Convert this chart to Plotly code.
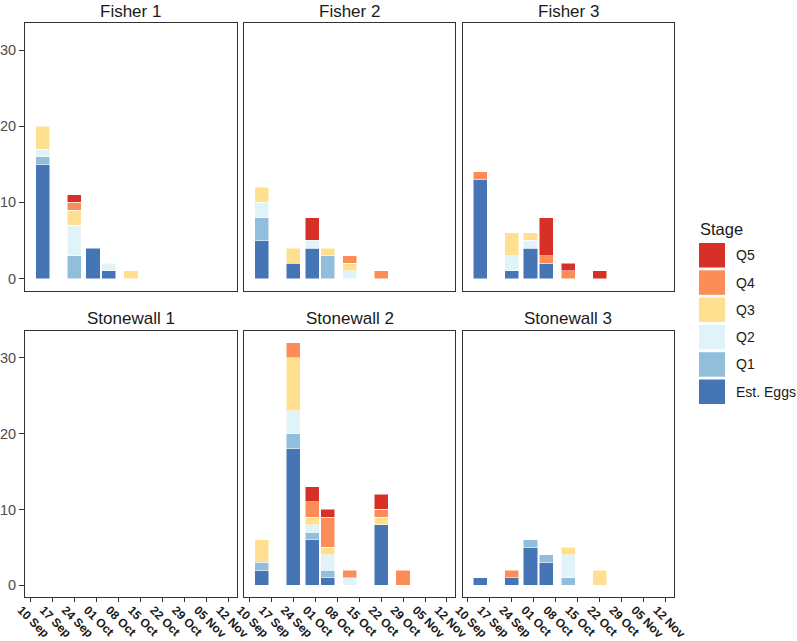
import plotly.graph_objects as go

# ---------------- data ----------------
dates = ["2018-09-14", "2018-09-24", "2018-09-30", "2018-10-05",
         "2018-10-12", "2018-10-22", "2018-10-29"]
stages = ["Est. Eggs", "Q1", "Q2", "Q3", "Q4", "Q5"]
stage_colors = ["#4575B4", "#91BFDB", "#E0F3F8", "#FEE090", "#FC8D59", "#D73027"]
sites = ["Fisher 1", "Fisher 2", "Fisher 3", "Stonewall 1", "Stonewall 2", "Stonewall 3"]
tick_start = "2018-09-10"
y_ticks = [0, 10, 20, 30]

fisher1_eggs = [15, 0, 4, 1, 0, 0, 0]
fisher1_q1 = [1, 3, 0, 0, 0, 0, 0]
fisher1_q2 = [1, 4, 0, 1, 0, 0, 0]
fisher1_q3 = [3, 2, 0, 0, 1, 0, 0]
fisher1_q4 = [0, 1, 0, 0, 0, 0, 0]
fisher1_q5 = [0, 1, 0, 0, 0, 0, 0]

fisher2_eggs = [5, 2, 4, 0, 0, 0, 0]
fisher2_q1 = [3, 0, 0, 3, 0, 0, 0]
fisher2_q2 = [2, 0, 1, 0, 1, 0, 0]
fisher2_q3 = [2, 2, 0, 1, 1, 0, 0]
fisher2_q4 = [0, 0, 0, 0, 1, 1, 0]
fisher2_q5 = [0, 0, 3, 0, 0, 0, 0]

fisher3_eggs = [13, 1, 4, 2, 0, 0, 0]
fisher3_q1 = [0, 0, 0, 0, 0, 0, 0]
fisher3_q2 = [0, 2, 1, 0, 0, 0, 0]
fisher3_q3 = [0, 3, 1, 0, 0, 0, 0]
fisher3_q4 = [1, 0, 0, 1, 1, 0, 0]
fisher3_q5 = [0, 0, 0, 5, 1, 1, 0]

stonewall1_eggs = [0, 0, 0, 0, 0, 0, 0]
stonewall1_q1 = [0, 0, 0, 0, 0, 0, 0]
stonewall1_q2 = [0, 0, 0, 0, 0, 0, 0]
stonewall1_q3 = [0, 0, 0, 0, 0, 0, 0]
stonewall1_q4 = [0, 0, 0, 0, 0, 0, 0]
stonewall1_q5 = [0, 0, 0, 0, 0, 0, 0]

stonewall2_eggs = [2, 18, 6, 1, 0, 8, 0]
stonewall2_q1 = [1, 2, 1, 1, 0, 0, 0]
stonewall2_q2 = [0, 3, 1, 2, 1, 0, 0]
stonewall2_q3 = [3, 7, 1, 1, 0, 1, 0]
stonewall2_q4 = [0, 2, 2, 4, 1, 1, 2]
stonewall2_q5 = [0, 0, 2, 1, 0, 2, 0]

stonewall3_eggs = [1, 1, 5, 3, 0, 0, 0]
stonewall3_q1 = [0, 0, 1, 1, 1, 0, 0]
stonewall3_q2 = [0, 0, 0, 0, 3, 0, 0]
stonewall3_q3 = [0, 0, 0, 0, 1, 2, 0]
stonewall3_q4 = [0, 1, 0, 0, 0, 0, 0]
stonewall3_q5 = [0, 0, 0, 0, 0, 0, 0]

site_data = [
    [fisher1_eggs, fisher1_q1, fisher1_q2, fisher1_q3, fisher1_q4, fisher1_q5],
    [fisher2_eggs, fisher2_q1, fisher2_q2, fisher2_q3, fisher2_q4, fisher2_q5],
    [fisher3_eggs, fisher3_q1, fisher3_q2, fisher3_q3, fisher3_q4, fisher3_q5],
    [stonewall1_eggs, stonewall1_q1, stonewall1_q2, stonewall1_q3, stonewall1_q4, stonewall1_q5],
    [stonewall2_eggs, stonewall2_q1, stonewall2_q2, stonewall2_q3, stonewall2_q4, stonewall2_q5],
    [stonewall3_eggs, stonewall3_q1, stonewall3_q2, stonewall3_q3, stonewall3_q4, stonewall3_q5],
]

# ---------------- layout geometry (pixels) ----------------
W, H = 797, 641
cols_px = [(25, 236.5), (244.3, 454.8), (462.7, 673.5)]
rows_px = [(22.7, 290.7), (330.7, 597.3)]
FONT = "Liberation Sans, Arial, sans-serif"
bar_width_ms = 4.5 * 86400000


def px_x(v):
    return v / W


def px_y(v):
    return 1 - v / H


fig = go.Figure()
layout = dict(
    template="none",
    width=W, height=H,
    margin=dict(l=0, r=0, t=0, b=0, autoexpand=False),
    paper_bgcolor="white", plot_bgcolor="white",
    barmode="stack", showlegend=False,
    font=dict(family=FONT),
)
annotations = []
shapes = []

for i, site in enumerate(sites):
    r, c = divmod(i, 3)
    n = i + 1
    xa = "xaxis" if n == 1 else f"xaxis{n}"
    ya = "yaxis" if n == 1 else f"yaxis{n}"
    xref = "x" if n == 1 else f"x{n}"
    yref = "y" if n == 1 else f"y{n}"
    x0, x1 = cols_px[c]
    y0, y1 = rows_px[r]
    bottom = r == 1
    left = c == 0
    layout[xa] = dict(
        domain=[px_x(x0), px_x(x1)], anchor=yref, type="date",
        range=["2018-09-08 09:36", "2018-11-14 12:00"],
        tick0=tick_start, dtick=7 * 86400000, tickformat="%d %b",
        showticklabels=bottom, ticks="outside" if bottom else "",
        ticklen=4, tickwidth=1, tickcolor="#333333",
        tickangle=45, ticklabelshift=-9, ticklabelstandoff=-4,
        tickfont=dict(family=FONT, size=12, color="#1a1a1a", weight="bold"),
        showgrid=False, zeroline=False, automargin=False,
        showline=True, mirror=True, linecolor="#333333", linewidth=1,
        fixedrange=True,
    )
    layout[ya] = dict(
        domain=[px_y(y1), px_y(y0)], anchor=xref,
        range=[-1.6, 33.6], tickvals=y_ticks,
        showticklabels=left, ticks="outside" if left else "",
        ticklen=5, tickwidth=1, tickcolor="#333333",
        tickfont=dict(family=FONT, size=14.5, color="#4D4D4D"),
        showgrid=False, zeroline=False, automargin=False,
        showline=True, mirror=True, linecolor="#333333", linewidth=1,
        fixedrange=True,
    )
    title_top = max(0.0, y0 - 7 - 16.4)
    annotations.append(dict(
        text=site, xref="paper", yref="paper",
        x=px_x((x0 + x1) / 2), y=px_y(title_top), xanchor="center", yanchor="top",
        showarrow=False, font=dict(family=FONT, size=17, color="#1a1a1a"),
    ))
    for s, stage in enumerate(stages):
        vals = [v if v else None for v in site_data[i][s]]
        fig.add_trace(go.Bar(
            x=dates, y=vals, name=stage, xaxis=xref, yaxis=yref,
            width=[bar_width_ms] * len(dates),
            marker=dict(color=stage_colors[s], line=dict(color="white", width=0.5)),
            showlegend=False,
        ))

# ---------------- legend (drawn manually) ----------------
key_x0, key_x1 = 699, 725
key_top0, key_pitch, key_h = 243, 27.3, 24.5
annotations.append(dict(
    text="Stage", xref="paper", yref="paper", x=px_x(698), y=px_y(229),
    xanchor="left", yanchor="middle", showarrow=False,
    font=dict(family=FONT, size=16.5, color="#1a1a1a"),
))
for k, s in enumerate(reversed(range(len(stages)))):
    top = key_top0 + k * key_pitch
    shapes.append(dict(
        type="rect", xref="paper", yref="paper",
        x0=px_x(key_x0), x1=px_x(key_x1), y0=px_y(top + key_h), y1=px_y(top),
        fillcolor=stage_colors[s], line=dict(width=0),
    ))
    annotations.append(dict(
        text=stages[s], xref="paper", yref="paper",
        x=px_x(734), y=px_y(top + key_h / 2), xanchor="left", yanchor="middle",
        showarrow=False, font=dict(family=FONT, size=14, color="#1a1a1a"),
    ))

layout["annotations"] = annotations
layout["shapes"] = shapes
fig.update_layout(**layout)
fig.write_html("out.html")
